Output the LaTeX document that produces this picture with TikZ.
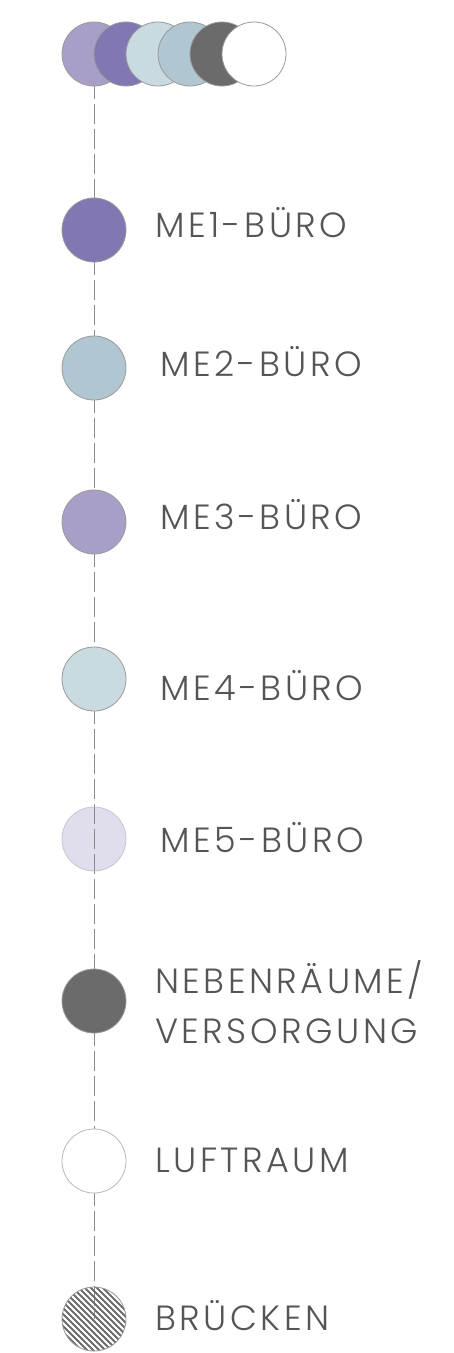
\documentclass[tikz,border=0pt]{standalone}
\usepackage{fontspec}
\setmainfont{Poppins}[UprightFont=* Light,LetterSpace=10]
\definecolor{cpurpleL}{HTML}{A89EC8}
\definecolor{cpurple}{HTML}{8177B3}
\definecolor{ccyan}{HTML}{C9DBE0}
\definecolor{cblue}{HTML}{B0C6D0}
\definecolor{cdark}{HTML}{6B6B6B}
\definecolor{cpale}{HTML}{D8D5E8}
\definecolor{cedge}{HTML}{9A9A9A}
\definecolor{ctext}{HTML}{555555}
\definecolor{cline}{HTML}{8A8A8A}
\begin{document}
\begin{tikzpicture}[x=1pt,y=-1pt,
  dot/.style={circle,draw=cedge,line width=0.8pt,minimum size=64pt,inner sep=0pt},
  lbl/.style={anchor=west,text=ctext,font=\fontsize{35}{50}\selectfont,inner sep=0pt,align=left,yshift=3pt},
  conn/.style={draw=cline,line width=1pt,dash pattern=on 20pt off 5pt}]
\useasboundingbox (0,0) rectangle (453,1353);
% connectors first (behind)
\coordinate (t1) at (94,54);
\coordinate (m1) at (94,230);
\coordinate (m2) at (94,368);
\coordinate (m3) at (94,522);
\coordinate (m4) at (94,679);
\coordinate (m5) at (94,839);
\coordinate (m6) at (94,1001);
\coordinate (m7) at (94,1161);
\coordinate (m8) at (94,1319);
\draw[conn] (t1) -- (m1);
\draw[conn] (m1) -- (m2);
\draw[conn] (m2) -- (m3);
\draw[conn] (m3) -- (m4);
\draw[conn] (m4) -- (m6);
\draw[conn] (m6) -- (m7);
\draw[conn] (m7) -- (m8);
% top row
\node[dot,fill=cpurpleL] (r1) at (94,54) {};
\node[dot,fill=cpurple] (r2) at (126,54) {};
\node[dot,fill=ccyan] (r3) at (158,54) {};
\node[dot,fill=cblue] (r4) at (190,54) {};
\node[dot,fill=cdark] (r5) at (222,54) {};
\node[dot,fill=white] (r6) at (254,54) {};
% legend circles
\node[dot,fill=cpurple] (c1) at (m1) {};
\node[dot,fill=cblue] (c2) at (m2) {};
\node[dot,fill=cpurpleL] (c3) at (m3) {};
\node[dot,fill=ccyan] (c4) at (m4) {};
\node[dot,draw=cpale!80!gray,fill=cpale,fill opacity=0.8] (c5) at (m5) {};
\node[dot,fill=cdark] (c6) at (m6) {};
\node[dot,draw=cedge!70,fill=white] (c7) at (m7) {};
\node[dot,path picture={
  \foreach \k in {-80,-74,...,80}{
    \draw[cdark,line width=1.8pt] ([xshift=\k pt]path picture bounding box.center) ++(-50,-50) -- ++(100,100);
  }}] (c8) at (m8) {};
% line through ME5
\draw[conn,dash phase=3pt] (c5.north) -- (c5.south);
% labels
\node[lbl] (l1) at (155,226) {ME1-BÜRO};
\node[lbl] (l2) at (160,365) {ME2-BÜRO};
\node[lbl] (l3) at (160,517.5) {ME3-BÜRO};
\node[lbl] (l4) at (160,689) {ME4-BÜRO};
\node[lbl] (l5) at (160,840.5) {ME5-BÜRO};
\node[lbl] (l6) at (155,1005.5) {NEBENRÄUME/\\VERSORGUNG};
\node[lbl] (l7) at (155,1163) {LUFTRAUM};
\node[lbl] (l8) at (155,1319) {BRÜCKEN};
\end{tikzpicture}
\end{document}
